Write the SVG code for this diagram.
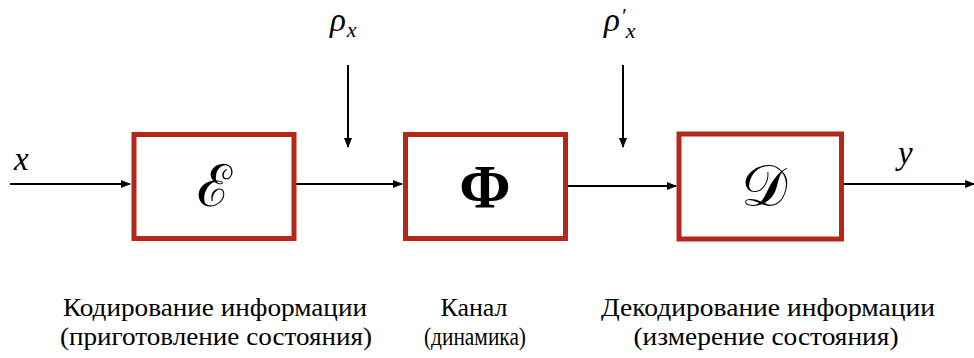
<svg xmlns="http://www.w3.org/2000/svg" width="974" height="358" viewBox="0 0 974 358">
<style>
.box{fill:#fff;stroke:#b3281a;stroke-width:5}
.ln{stroke:#000;stroke-width:2;fill:none}
.mi{font-family:'Liberation Serif','Times New Roman','DejaVu Serif',serif;font-style:italic;font-size:33px;fill:#000}
.sub{font-size:22px}
.lbl{font-family:'Liberation Serif','Times New Roman','DejaVu Serif',serif;font-size:25px;fill:#000;text-anchor:middle}
.sym{font-family:'Liberation Serif',serif;fill:#000;text-anchor:middle}
</style>
<defs>
<marker id="ah" markerWidth="10" markerHeight="8" refX="9" refY="4" orient="auto" markerUnits="userSpaceOnUse">
<path d="M0,0 L10,4 L0,8 Z" fill="#000"/>
</marker>
</defs>
<rect width="974" height="358" fill="#fff"/>
<g id="connectors">
<line class="ln" x1="10" y1="184" x2="130" y2="184" marker-end="url(#ah)"/>
<line class="ln" x1="296" y1="184" x2="402" y2="184" marker-end="url(#ah)"/>
<line class="ln" x1="568" y1="186" x2="676" y2="186" marker-end="url(#ah)"/>
<line class="ln" x1="844" y1="184" x2="974" y2="184" marker-end="url(#ah)"/>
<line class="ln" x1="348" y1="65" x2="348" y2="147" marker-end="url(#ah)"/>
<line class="ln" x1="623" y1="65" x2="623" y2="147" marker-end="url(#ah)"/>
</g>
<g id="input-x"><text class="mi" x="14" y="170">x</text></g>
<g id="rho-x"><text class="mi" x="330" y="31">ρ<tspan class="sub" dx="1" dy="6">x</tspan></text></g>
<g id="rho-x-prime"><text class="mi" x="604" y="31">ρ<tspan class="sub" dx="1" dy="-8">′</tspan><tspan class="sub" dy="15">x</tspan></text></g>
<g id="output-y"><text class="mi" x="898" y="164">y</text></g>
<g id="encoder">
<rect class="box" x="134" y="134.5" width="160" height="104"/>
<text class="sym" x="214" y="206" font-size="58">ℰ</text>
</g>
<g id="channel">
<rect class="box" x="405.5" y="134.5" width="160" height="104"/>
<text x="485" y="207" font-family="'Liberation Serif',serif" font-size="62" font-weight="bold" text-anchor="middle">Φ</text>
</g>
<g id="decoder">
<rect class="box" x="679" y="134" width="162.5" height="105"/>
<text class="sym" x="764" y="206" font-size="58">𝒟</text>
</g>
<g id="labels">
<text class="lbl" x="215" y="316" textLength="304" lengthAdjust="spacingAndGlyphs">Кодирование информации</text>
<text class="lbl" x="216" y="345" textLength="312" lengthAdjust="spacingAndGlyphs">(приготовление состояния)</text>
<text class="lbl" x="474" y="316" textLength="67" lengthAdjust="spacingAndGlyphs">Канал</text>
<text class="lbl" x="475" y="345" textLength="102" lengthAdjust="spacingAndGlyphs">(динамика)</text>
<text class="lbl" x="768" y="316" textLength="334" lengthAdjust="spacingAndGlyphs">Декодирование информации</text>
<text class="lbl" x="766" y="345" textLength="265" lengthAdjust="spacingAndGlyphs">(измерение состояния)</text>
</g>
</svg>
